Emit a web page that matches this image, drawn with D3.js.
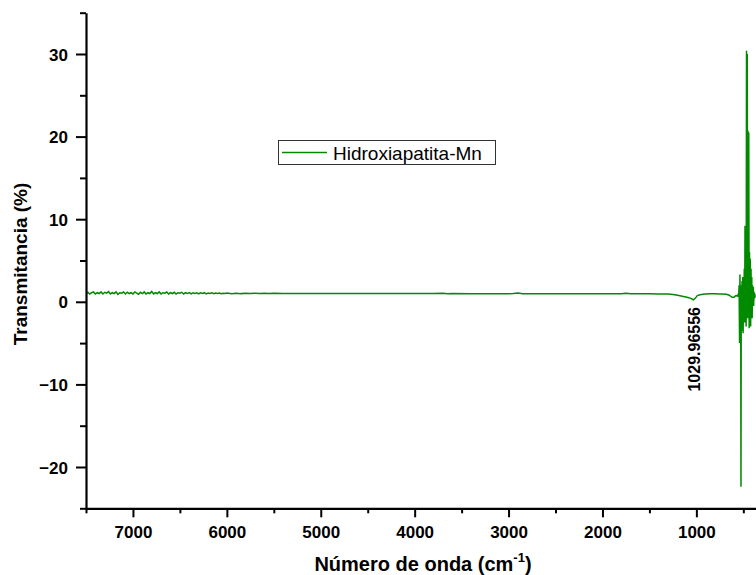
<!DOCTYPE html>
<html>
<head>
<meta charset="utf-8">
<script src="https://cdn.jsdelivr.net/npm/d3@7"></script>
<style>
  html, body { margin: 0; padding: 0; background: #fff; }
  svg { display: block; }
  text { font-family: "Liberation Sans", Arial, sans-serif; fill: #000; }
</style>
</head>
<body>
<svg id="chart" width="756" height="575"></svg>
<script>
// FTIR spectrum, wavenumber (cm-1) vs transmittance (%)
const seriesName = "Hidroxiapatita-Mn";
const peakLabel = "1029.96556";
const peakWavenumber = 1029.96556;

// Broad region of the spectrum: [wavenumber, transmittance]
const baselineData = [
  [7500,1.00],[7480,1.15],[7460,0.95],[7440,1.10],[7420,1.20],[7400,0.95],[7380,1.10],[7360,1.00],
  [7340,1.20],[7320,0.95],[7300,1.15],[7280,1.05],[7260,1.25],[7240,0.95],[7220,1.10],[7200,1.00],
  [7180,1.20],[7160,0.90],[7140,1.10],[7120,1.05],[7100,1.20],[7080,0.95],[7060,1.15],[7040,1.00],
  [7020,1.10],[7000,0.95],[6980,1.20],[6960,1.05],[6940,0.90],[6920,1.15],[6900,1.00],[6880,1.20],
  [6860,0.95],[6840,1.10],[6820,1.00],[6800,1.25],[6780,0.95],[6760,1.10],[6740,1.00],[6720,1.20],
  [6700,0.95],[6680,1.10],[6660,1.05],[6640,1.20],[6620,0.95],[6600,1.10],[6580,1.00],[6560,1.15],
  [6540,0.95],[6520,1.10],[6500,1.05],[6480,1.15],[6460,0.95],[6440,1.10],[6420,1.00],[6400,1.12],
  [6380,0.95],[6360,1.08],[6340,1.00],[6320,1.10],[6300,0.97],[6280,1.08],[6260,1.00],[6240,1.10],
  [6220,0.96],[6200,1.06],[6180,1.00],[6160,1.08],[6140,0.97],[6120,1.05],[6100,1.00],[6080,1.06],
  [6060,0.97],[6040,1.04],[6020,1.00],[6000,1.05],[5950,0.98],[5900,1.04],[5850,0.99],[5800,1.03],
  [5750,0.99],[5700,1.03],[5650,1.00],[5600,1.02],[5550,0.99],[5500,1.02],[5400,1.00],[5300,1.01],
  [5200,1.00],[5000,1.00],[4800,1.00],[4600,1.00],[4400,1.01],[4200,1.00],[4000,1.00],[3800,1.00],
  [3700,1.02],[3650,0.98],[3600,1.00],[3400,0.98],[3200,0.97],[3000,0.97],[2950,1.00],[2900,1.05],
  [2850,0.98],[2800,0.97],[2600,0.96],[2400,0.96],[2200,0.96],[2000,0.96],[1800,0.97],[1750,1.02],
  [1700,0.96],[1600,0.96],[1500,0.96],[1400,0.95],[1300,0.93],[1250,0.88],[1200,0.78],[1150,0.68],
  [1100,0.55],[1060,0.42],[1030,0.25],[1010,0.45],[990,0.75],[960,0.85],[930,0.90],[900,0.93],
  [860,0.96],[800,0.96],[760,0.95],[720,0.93],[680,0.90],[650,0.80],[620,0.55],[600,0.55],
  [580,0.75],[565,0.70],[555,0.90]
];

// Low-wavenumber region with strong oscillations: [wavenumber, transmittance]
const fingerprintData = [
  [550,0.60],[545,2.00],[540,-5.00],[536,3.30],[532,-1.00],[528,1.50],[525,-22.40],[522,2.00],
  [518,-3.50],[514,2.50],[510,-2.00],[506,3.00],[502,-3.80],[498,2.00],[494,-1.50],[490,4.00],
  [486,-2.50],[482,9.20],[478,-1.00],[474,9.00],[470,-3.00],[466,30.40],[462,2.00],[458,30.00],
  [454,-2.00],[450,20.70],[446,0.50],[442,20.50],[438,-3.20],[434,6.00],[430,-2.00],[426,5.20],
  [422,-3.00],[418,4.00],[414,-1.00],[410,3.00],[406,-2.00],[402,2.00],[398,0.00],[394,1.80],
  [390,-0.50],[386,1.20],[382,0.40],[378,1.00],[374,0.50]
];

const xMajorTicks = [7000, 6000, 5000, 4000, 3000, 2000, 1000];
const xMinorTicks = [7500, 6500, 5500, 4500, 3500, 2500, 1500, 500];
const yMajorTicks = [30, 20, 10, 0, -10, -20];
const yMinorTicks = [35, 25, 15, 5, -5, -15, -25];

const xDomain = [7500, 365];
const yDomain = [-25, 35];

const svg = d3.select("#chart");
const plot = { left: 86, right: 756, top: 12.7, bottom: 508.3 };

const x = d3.scaleLinear().domain(xDomain).range([plot.left, plot.right]);
const y = d3.scaleLinear().domain(yDomain).range([plot.bottom, plot.top]);

const green = "#008a00";

// clip path for the plot area
svg.append("defs").append("clipPath").attr("id", "plotClip")
  .append("rect").attr("x", plot.left).attr("y", plot.top - 1)
  .attr("width", plot.right - plot.left).attr("height", plot.bottom - plot.top + 1);

const line = d3.line().x(d => x(d[0])).y(d => y(d[1]));
const spectrum = baselineData.concat(fingerprintData);

svg.append("path")
  .datum(spectrum)
  .attr("clip-path", "url(#plotClip)")
  .attr("fill", "none")
  .attr("stroke", green)
  .attr("stroke-width", 1.5)
  .attr("stroke-linejoin", "miter")
  .attr("d", line);

// Y axis: major ticks labelled, minor ticks unlabelled
const yAxis = svg.append("g").attr("transform", `translate(${plot.left},0)`);
yAxis.call(d3.axisLeft(y).tickValues(yMajorTicks).tickSize(10).tickSizeOuter(0)
  .tickFormat(d => d < 0 ? "\u2212" + Math.abs(d) : String(d)));
yAxis.append("g").call(d3.axisLeft(y).tickValues(yMinorTicks).tickSize(6).tickFormat(""))
  .select(".domain").remove();
yAxis.selectAll("text").attr("font-size", 17).attr("font-weight", "bold")
  .attr("font-family", "'Liberation Sans', Arial, sans-serif").attr("x", -18).attr("dy", "0.36em");
yAxis.selectAll("line").attr("stroke", "#000").attr("stroke-width", 2);
yAxis.select(".domain").attr("stroke", "#000").attr("stroke-width", 2.2);

// X axis
const xAxis = svg.append("g").attr("transform", `translate(0,${plot.bottom})`);
xAxis.call(d3.axisBottom(x).tickValues(xMajorTicks).tickSize(9).tickSizeOuter(0)
  .tickFormat(d => String(d)));
xAxis.append("g").call(d3.axisBottom(x).tickValues(xMinorTicks).tickSize(5).tickFormat(""))
  .select(".domain").remove();
xAxis.selectAll("text").attr("font-size", 17).attr("font-weight", "bold")
  .attr("font-family", "'Liberation Sans', Arial, sans-serif").attr("y", 18);
xAxis.selectAll("line").attr("stroke", "#000").attr("stroke-width", 2);
xAxis.select(".domain").attr("stroke", "#000").attr("stroke-width", 2.2);

// Axis titles
svg.append("text")
  .attr("transform", "translate(27,264) rotate(-90)")
  .attr("text-anchor", "middle")
  .attr("font-size", 19).attr("font-weight", "bold")
  .text("Transmitancia (%)");

const xTitle = svg.append("text")
  .attr("x", (plot.left + plot.right) / 2 + 2).attr("y", 571)
  .attr("text-anchor", "middle")
  .attr("font-size", 20).attr("font-weight", "bold");
xTitle.append("tspan").text("Número de onda (cm");
xTitle.append("tspan").attr("font-size", 13).attr("dy", -9).text("-1");
xTitle.append("tspan").attr("dy", 9).text(")");

// Peak annotation
svg.append("text")
  .attr("transform", `translate(${x(peakWavenumber) + 6},307) rotate(-90)`)
  .attr("text-anchor", "end")
  .attr("font-size", 16).attr("font-weight", "bold")
  .text(peakLabel);

// Legend
const legend = svg.append("g");
legend.append("rect")
  .attr("x", 278.5).attr("y", 140.5).attr("width", 217).attr("height", 24)
  .attr("fill", "#fff").attr("stroke", "#333").attr("stroke-width", 1);
legend.append("line")
  .attr("x1", 282).attr("x2", 327).attr("y1", 152.5).attr("y2", 152.5)
  .attr("stroke", green).attr("stroke-width", 1.5);
legend.append("text")
  .attr("x", 333).attr("y", 159.5)
  .attr("font-size", 19)
  .text(seriesName);
</script>
</body>
</html>
